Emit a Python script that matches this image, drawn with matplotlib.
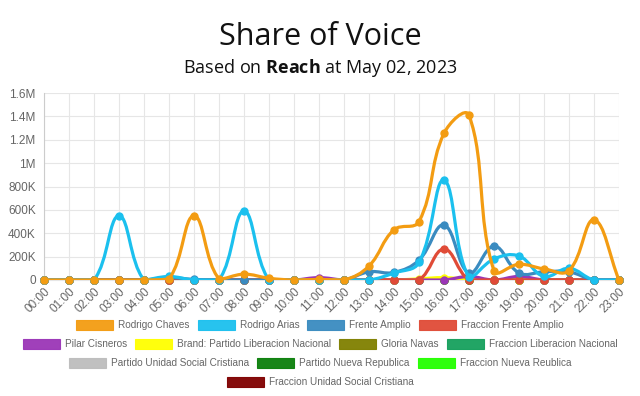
import matplotlib
matplotlib.use("Agg")
import matplotlib.pyplot as plt
from matplotlib.path import Path
from matplotlib.patches import PathPatch, Rectangle
from matplotlib.ticker import FuncFormatter
import numpy as np

# Data (reach per hour, May 02 2023)
hours = [f"{h:02d}:00" for h in range(24)]

rodrigo_chaves = [0, 0, 0, 0, 0, 10e3, 550e3, 10e3, 50e3, 15e3, 0, 5e3,
                  0, 120e3, 430e3, 500e3, 1255e3, 1410e3, 80e3, 135e3, 95e3, 80e3, 515e3, 0]
rodrigo_arias = [0, 0, 0, 550e3, 0, 30e3, 0, 0, 590e3, 0, 0, 0,
                 0, 0, 60e3, 150e3, 855e3, 25e3, 180e3, 205e3, 30e3, 100e3, 0, 0]
frente_amplio = [0, 0, 0, 0, 0, 20e3, 5e3, 0, 0, 0, 0, 0,
                 0, 70e3, 65e3, 170e3, 470e3, 60e3, 290e3, 60e3, 70e3, 70e3, 0, 0]
fraccion_frente_amplio = [0, 0, 0, 0, 0, 0, 0, 0, 0, 0, 0, 0,
                          0, 0, 0, 0, 265e3, 0, 0, 0, 0, 0, 0, 0]
pilar_cisneros = [0, 0, 0, 0, 0, 0, 0, 0, 0, 0, 0, 20e3,
                  0, 0, 0, 0, 0, 30e3, 0, 30e3, 0, 0, 0, 0]
brand_pln = [0, 0, 0, 0, 0, 0, 0, 0, 0, 0, 0, 0,
             0, 0, 0, 10e3, 20e3, 5e3, 0, 0, 0, 0, 0, 0]
zeros = [0] * 24

series = [
    ("Rodrigo Chaves", rodrigo_chaves, "#f39c12"),
    ("Rodrigo Arias", rodrigo_arias, "#1bc0ee"),
    ("Frente Amplio", frente_amplio, "#3a8bc0"),
    ("Fraccion Frente Amplio", fraccion_frente_amplio, "#e04b37"),
    ("Pilar Cisneros", pilar_cisneros, "#9b36b7"),
    ("Brand: Partido Liberacion Nacional", brand_pln, "#ffff00"),
    ("Gloria Navas", zeros, "#808000"),
    ("Fraccion Liberacion Nacional", zeros, "#16a05d"),
    ("Partido Unidad Social Cristiana", zeros, "#bdbdbd"),
    ("Partido Nueva Republica", zeros, "#0b800b"),
    ("Fraccion Nueva Reublica", zeros, "#24ff00"),
    ("Fraccion Unidad Social Cristiana", zeros, "#800000"),
]
legend_rows = [[0, 1, 2, 3], [4, 5, 6, 7], [8, 9, 10], [11]]

plt.rcParams["font.family"] = ["Liberation Sans", "DejaVu Sans"]
plt.rcParams["mathtext.fontset"] = "custom"
plt.rcParams["mathtext.rm"] = "Open Sans"
plt.rcParams["mathtext.bf"] = "Open Sans:bold"

fig = plt.figure(figsize=(6.4, 3.96), dpi=100)
ax = fig.add_axes([44 / 640, 1 - 280 / 396, 575 / 640, 187 / 396])
ax.set_xlim(0, 23)
ax.set_ylim(0, 1.6e6)


def spline_path(xs, ys, tension=0.4):
    # chart.js style cubic spline, computed in pixel space
    pts = ax.transData.transform(np.column_stack([xs, ys]))
    bbox = ax.bbox
    n = len(pts)
    cps = []
    for i in range(n):
        prev = pts[max(i - 1, 0)]
        cur = pts[i]
        nxt = pts[min(i + 1, n - 1)]
        d01 = np.hypot(*(cur - prev))
        d12 = np.hypot(*(nxt - cur))
        tot = d01 + d12
        s01 = d01 / tot if tot else 0
        s12 = d12 / tot if tot else 0
        c_prev = cur - tension * s01 * (nxt - prev)
        c_next = cur + tension * s12 * (nxt - prev)
        c_prev[1] = np.clip(c_prev[1], bbox.y0, bbox.y1)
        c_next[1] = np.clip(c_next[1], bbox.y0, bbox.y1)
        cps.append((c_prev, c_next))
    verts = [pts[0]]
    codes = [Path.MOVETO]
    for i in range(1, n):
        verts += [cps[i - 1][1], cps[i][0], pts[i]]
        codes += [Path.CURVE4] * 3
    verts = ax.transData.inverted().transform(np.array(verts))
    return Path(verts, codes)


x = np.arange(24)
for k, (name, vals, col) in reversed(list(enumerate(series))):
    p = spline_path(x, vals)
    ax.add_patch(PathPatch(p, fill=False, edgecolor=col, lw=2.3, zorder=3 + (12 - k) * 0.1))
    ax.plot(x, vals, "o", color=col, ms=5, zorder=3 + (12 - k) * 0.1, clip_on=False)

ax.set_xticks(x)
ax.set_xticklabels(hours, rotation=45, ha="right", rotation_mode="anchor")
ax.set_yticks(np.arange(0, 1.6e6 + 1, 200e3))


def fmt(v, pos):
    if v == 0:
        return "0"
    if v >= 1e6:
        return f"{v / 1e6:g}M"
    return f"{v / 1e3:g}K"


ax.yaxis.set_major_formatter(FuncFormatter(fmt))
ax.tick_params(axis="both", colors="#666666", labelsize=8.5, length=0, pad=6)
ax.tick_params(axis="x", pad=4)
ax.grid(True, color="#e6e6e6", lw=0.8)
ax.set_axisbelow(True)
for s in ["top", "right"]:
    ax.spines[s].set_visible(False)
ax.spines["left"].set_color("#cccccc")
ax.spines["bottom"].set_color("#e6e6e6")

fig.text(0.5, 1 - 37 / 396, "Share of Voice", ha="center", va="center",
         fontsize=22, family="Open Sans", color="#111111")
fig.text(0.5, 1 - 68 / 396, r"Based on $\mathbf{Reach}$ at May 02, 2023", ha="center",
         va="center", fontsize=13, family="Open Sans", color="#111111")

row_y = [325, 344, 363, 382]
for r, idxs in enumerate(legend_rows):
    handles = [Rectangle((0, 0), 1, 1, facecolor=series[i][2], edgecolor=series[i][2],
                         alpha=0.95, lw=0.8) for i in idxs]
    labels = [series[i][0] for i in idxs]
    leg = fig.legend(handles, labels, loc="center", bbox_to_anchor=(0.5, 1 - row_y[r] / 396),
                     ncol=len(idxs), frameon=False, fontsize=7.2, handlelength=3.7,
                     handleheight=1.2, handletextpad=0.5, columnspacing=0.8,
                     borderpad=0, borderaxespad=0)
    for t in leg.get_texts():
        t.set_color("#666666")

fig.savefig("out.png", dpi=100)
